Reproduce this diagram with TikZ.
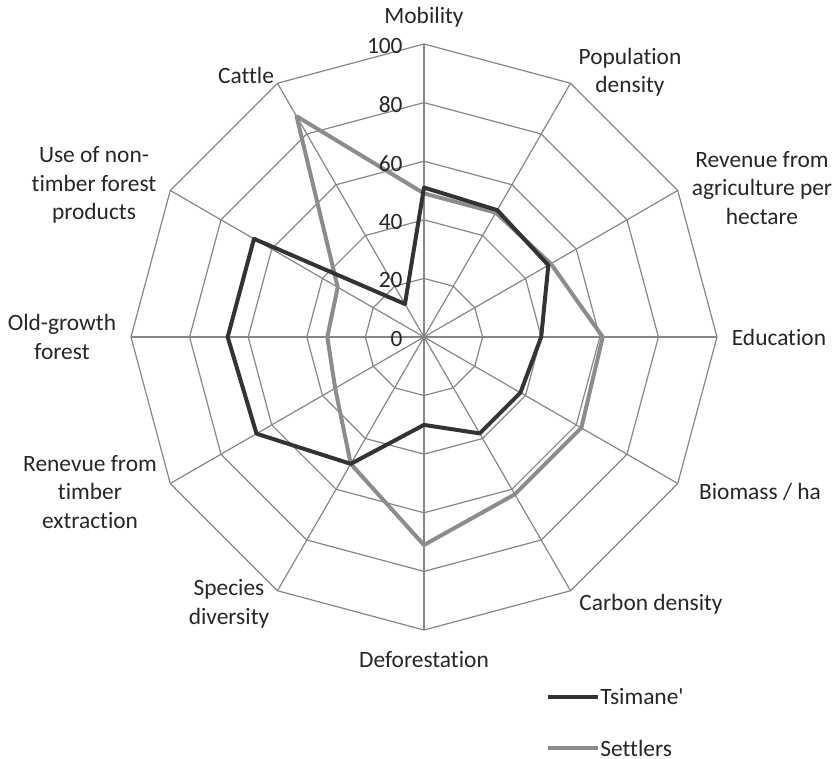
\documentclass[tikz,border=0pt]{standalone}
\usepackage{fontspec}
\setmainfont{Carlito}[Ligatures={NoCommon,TeXOff}]
\usetikzlibrary{positioning}
\definecolor{tsimanegray}{RGB}{51,51,51}
\definecolor{settlergray}{RGB}{140,140,140}
\definecolor{gridgray}{RGB}{134,134,134}

\begin{document}
\begin{tikzpicture}[
    x=0.5pt, y=0.5pt,
    font=\fontsize{11.7}{14.2}\selectfont,
    gridline/.style={draw=gridgray, line width=0.6pt},
    axislabel/.style={align=center, inner sep=0pt, text=black!85},
    ticklabel/.style={anchor=east, inner sep=0pt, text=black!85},
    legendlabel/.style={anchor=west, inner sep=1pt, text=black!85},
    tsimane/.style={draw=tsimanegray, line width=2pt, line join=round},
    settlers/.style={draw=settlergray, line width=2pt, line join=round}
]
    \useasboundingbox (-424,-422) rectangle (411,337);

    \begin{scope}[scale=2.93]
        % Grid rings and spokes
        \foreach \r in {20,40,...,100}
            \draw[gridline] (0:\r) \foreach \a in {30,60,...,330} { -- (\a:\r) } -- cycle;
        \foreach \a in {0,30,...,330}
            \draw[gridline] (0,0) -- (\a:100);

        % Settlers
        \draw[settlers] (90:49) -- (60:49) -- (30:50) -- (0:61) -- (-30:62) -- (-60:62)
            -- (-90:71) -- (-120:50) -- (-150:35) -- (180:33) -- (150:34) -- (120:87) -- cycle;

        % Tsimane'
        \draw[tsimane] (90:51) -- (60:50) -- (30:49) -- (0:40) -- (-30:38) -- (-60:38)
            -- (-90:30) -- (-120:50) -- (-150:66) -- (180:67) -- (150:67) -- (120:13) -- cycle;
    \end{scope}

    % Scale values
    \foreach \r in {0,20,...,100}
        \node[ticklabel] (tick\r) at (-21,{\r*2.93-2}) {\r};

    % Axis labels
    \node[axislabel] (mobility) at (0,320) {Mobility};
    \node[axislabel] (popdens) at (206,265) {Population\\density};
    \node[axislabel] (revagri) at (338,149) {Revenue from\\agriculture per\\hectare};
    \node[axislabel] (education) at (355,0) {Education};
    \node[axislabel] (biomass) at (336,-155) {Biomass / ha};
    \node[axislabel] (carbon) at (227,-267) {Carbon density};
    \node[axislabel] (deforest) at (0,-323) {Deforestation};
    \node[axislabel] (species) at (-195,-267) {Species\\diversity};
    \node[axislabel] (timber) at (-334,-155) {Renevue from\\timber\\extraction};
    \node[axislabel] (oldgrowth) at (-362,0) {Old-growth\\forest};
    \node[axislabel] (ntfp) at (-330,152) {Use of non-\\timber forest\\products};
    \node[axislabel] (cattle) at (-178,262) {Cattle};

    % Legend
    \coordinate (tsistart) at (124,-360);
    \node[legendlabel] (tsilabel) at (174,-360) {Tsimane'};
    \draw[tsimane] (tsistart) -- (tsilabel.west);

    \coordinate (setstart) at (124,-411);
    \node[legendlabel] (setlabel) at (174,-411) {Settlers};
    \draw[settlers] (setstart) -- (setlabel.west);
\end{tikzpicture}
\end{document}
